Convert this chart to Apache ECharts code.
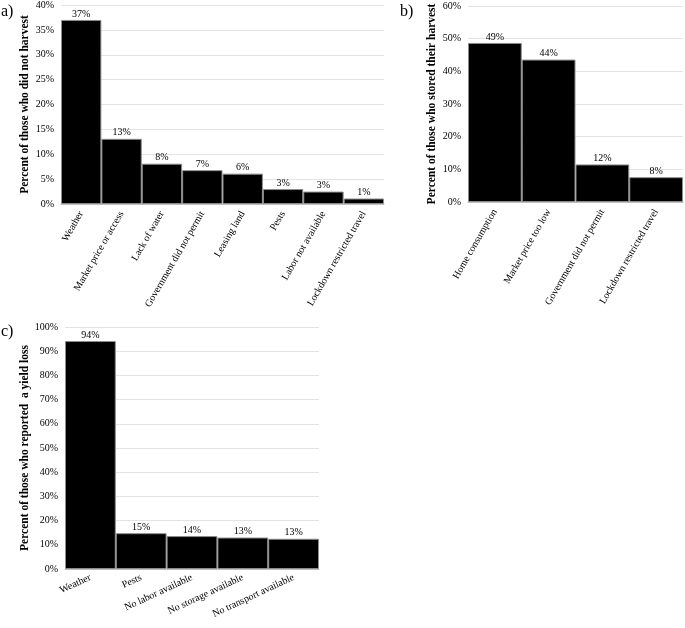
<!DOCTYPE html>
<html><head><meta charset="utf-8">
<script src="https://cdn.jsdelivr.net/npm/echarts@6/dist/echarts.min.js"></script>
<style>html,body{margin:0;padding:0;background:#fff}#c{width:685px;height:628px}</style>
</head><body><div id="c"></div>
<script>
// Panel a
var catsA = ["Weather","Market price or access","Lack of water","Government did not permit","Leasing land","Pests","Labor not available","Lockdown restricted travel"];
var valsA = [37.0, 13.1, 8.1, 6.8, 6.1, 3.0, 2.5, 1.1];
// Panel b
var catsB = ["Home consumption","Market price too low","Government did not permit","Lockdown restricted travel"];
var valsB = [48.7, 43.6, 11.5, 7.6];
// Panel c
var catsC = ["Weather","Pests","No labor available","No storage available","No transport available"];
var valsC = [94.2, 14.8, 13.6, 13.0, 12.5];

var FONT = "Liberation Serif";
var chart = echarts.init(document.getElementById('c'));
function xAx(gi, cats, rot){
  return {type:'category', gridIndex:gi, data:cats,
    axisLine:{show:true, lineStyle:{color:'#bfbfbf'}}, axisTick:{show:false},
    axisLabel:{interval:0, rotate:rot, fontFamily:FONT, fontSize:10, color:'#000', margin:8}};
}
function yAx(gi, max, step, name, gap){
  return {type:'value', gridIndex:gi, min:0, max:max, interval:step,
    name:name, nameLocation:'middle', nameGap:gap,
    nameTextStyle:{fontFamily:FONT, fontWeight:'bold', fontSize:11.5, color:'#000'},
    axisLine:{show:false}, axisTick:{show:false},
    splitLine:{lineStyle:{color:'#e3e3e3'}},
    axisLabel:{formatter:'{value}%', fontFamily:FONT, fontSize:10, color:'#000', margin:7}};
}
function ser(i, vals){
  return {type:'bar', xAxisIndex:i, yAxisIndex:i, data:vals, barCategoryGap:'0%',
    itemStyle:{color:'#000', borderColor:'#8c8c8c', borderWidth:1},
    label:{show:true, position:'top', distance:1, fontFamily:FONT, fontSize:10, color:'#000',
      formatter:function(p){return Math.round(p.value)+'%';}}};
}
chart.setOption({
  animation:false,
  textStyle:{fontFamily:FONT},
  graphic:[
    {type:'text', left:1, top:4, style:{text:'a)', font:'16px "Liberation Serif"', fill:'#000'}},
    {type:'text', left:400, top:4, style:{text:'b)', font:'16px "Liberation Serif"', fill:'#000'}},
    {type:'text', left:1, top:324, style:{text:'c)', font:'16px "Liberation Serif"', fill:'#000'}}
  ],
  grid:[
    {left:61, top:5, width:323, height:199},
    {left:468, top:6, width:215, height:196},
    {left:65, top:327, width:254, height:242}
  ],
  xAxis:[xAx(0,catsA,60), xAx(1,catsB,60), xAx(2,catsC,25)],
  yAxis:[
    yAx(0,40,5,'Percent of those who did not harvest',30),
    yAx(1,60,10,'Percent of those who stored their harvest',30),
    yAx(2,100,10,'Percent of those who reported  a yield loss',34)
  ],
  series:[ser(0,valsA), ser(1,valsB), ser(2,valsC)]
});
</script></body></html>
